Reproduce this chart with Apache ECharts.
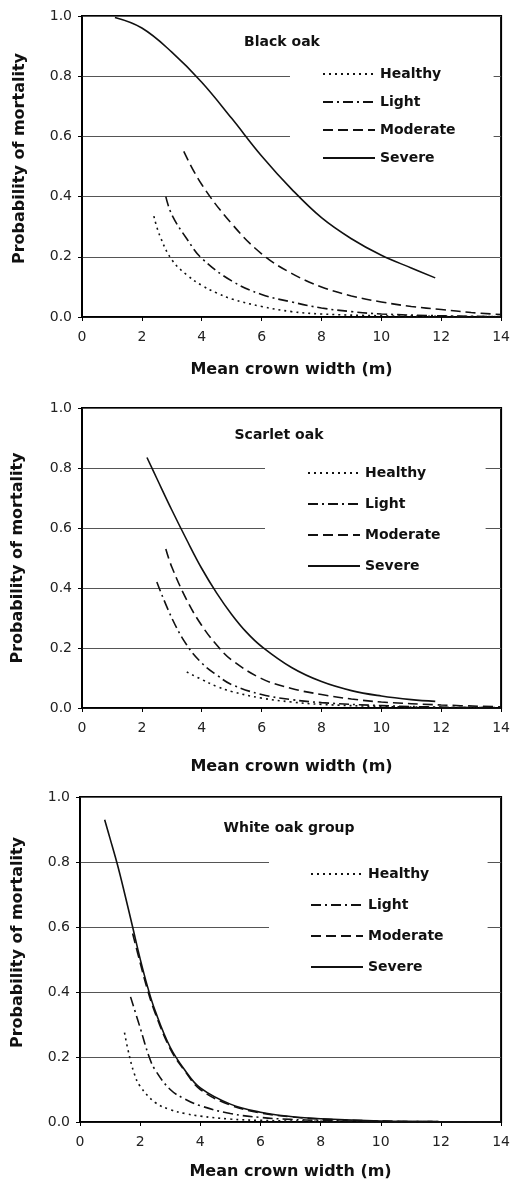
<!DOCTYPE html>
<html>
<head>
<meta charset="utf-8">
<script src="https://cdn.jsdelivr.net/npm/echarts@6/dist/echarts.min.js"></script>
<style>
  html, body { margin: 0; padding: 0; background: #fff; }
  #chart { width: 513px; height: 1182px; }
</style>
</head>
<body>
<div id="chart"></div>
<script>
// 类别与刻度
const levels = ['Healthy', 'Light', 'Moderate', 'Severe'];
const panelTitles = ['Black oak', 'Scarlet oak', 'White oak group'];
const xTicks = [0, 2, 4, 6, 8, 10, 12, 14];
const yTicks = [0, 0.2, 0.4, 0.6, 0.8, 1.0];

// Black oak  [宽度, 概率]
const blackHealthy = [[2.4, 0.335], [2.6, 0.27], [3, 0.19], [3.5, 0.14], [4, 0.105], [4.5, 0.08], [5, 0.06], [6, 0.035], [7, 0.018], [8, 0.01], [10, 0.004], [12, 0.002], [14, 0.001]];
const blackLight = [[2.8, 0.40], [3, 0.34], [3.5, 0.26], [4, 0.195], [5, 0.12], [6, 0.075], [7, 0.05], [8, 0.03], [9, 0.018], [10, 0.01], [12, 0.004], [14, 0.001]];
const blackModerate = [[3.4, 0.55], [4, 0.44], [5, 0.31], [6, 0.21], [7, 0.145], [8, 0.1], [9, 0.07], [10, 0.05], [11, 0.035], [12, 0.025], [13, 0.015], [14, 0.008]];
const blackSevere = [[1.1, 0.995], [2, 0.96], [3, 0.88], [4, 0.78], [5, 0.66], [6, 0.535], [7, 0.425], [8, 0.33], [9, 0.26], [10, 0.205], [11, 0.163], [11.8, 0.13]];

// Scarlet oak
const scarletHealthy = [[3.5, 0.12], [4, 0.095], [4.5, 0.072], [5, 0.055], [6, 0.033], [7, 0.02], [8, 0.012], [10, 0.005], [12, 0.002], [14, 0.001]];
const scarletLight = [[2.5, 0.42], [3, 0.3], [3.5, 0.21], [4, 0.15], [4.5, 0.11], [5, 0.078], [6, 0.045], [7, 0.028], [8, 0.018], [10, 0.008], [12, 0.003], [14, 0.001]];
const scarletModerate = [[2.8, 0.53], [3, 0.47], [3.5, 0.36], [4, 0.275], [4.5, 0.21], [5, 0.16], [6, 0.098], [7, 0.065], [8, 0.045], [9, 0.03], [10, 0.02], [12, 0.01], [14, 0.004]];
const scarletSevere = [[2.17, 0.835], [2.5, 0.765], [3, 0.66], [3.5, 0.56], [4, 0.465], [4.5, 0.383], [5, 0.312], [5.5, 0.252], [6, 0.205], [7, 0.135], [8, 0.088], [9, 0.058], [10, 0.04], [11, 0.028], [11.8, 0.022]];

// White oak group
const whiteHealthy = [[1.48, 0.275], [1.6, 0.22], [1.8, 0.15], [2, 0.11], [2.5, 0.06], [3, 0.038], [3.5, 0.026], [4, 0.018], [5, 0.009], [6, 0.005], [8, 0.002], [10, 0.001], [14, 0.0003]];
const whiteLight = [[1.68, 0.385], [2, 0.29], [2.3, 0.2], [2.5, 0.16], [3, 0.1], [3.5, 0.07], [4, 0.05], [5, 0.026], [6, 0.014], [7, 0.008], [8, 0.005], [10, 0.002], [14, 0.0005]];
const whiteModerate = [[1.75, 0.58], [2, 0.49], [2.25, 0.405], [2.5, 0.335], [3, 0.225], [3.5, 0.155], [4, 0.1], [5, 0.052], [6, 0.028], [7, 0.016], [8, 0.009], [10, 0.003], [12, 0.001], [14, 0.0005]];
const whiteSevere = [[0.82, 0.93], [1, 0.872], [1.25, 0.79], [1.5, 0.697], [1.75, 0.6], [2, 0.502], [2.25, 0.415], [2.5, 0.342], [3, 0.23], [3.5, 0.158], [4, 0.105], [5, 0.055], [6, 0.03], [7, 0.017], [8, 0.01], [10, 0.003], [12, 0.001], [14, 0.0005]];

const panelData = [
    [blackHealthy, blackLight, blackModerate, blackSevere],
    [scarletHealthy, scarletLight, scarletModerate, scarletSevere],
    [whiteHealthy, whiteLight, whiteModerate, whiteSevere]
];

// 线型
const dashTypes = [[2, 4], [10, 4, 2, 4], [10, 5], 'solid'];
const font = 'DejaVu Sans';

// 布局
const grids = [
    { left: 82, right: 10, top: 16, height: 301 },
    { left: 82, right: 8, top: 408, height: 300 },
    { left: 80, right: 8, top: 797, height: 325 }
];
const xNameGaps = [45, 51, 42];
const yNameGaps = [54, 56, 54];
const yNamePads = [[0, 0, 0, 16], [0, 0, 0, 0], [0, 0, 0, 34]];
const titlePos = [[282, 35], [279, 428], [289, 821]];
const legendPos = [
    { left: 290, top: 60, padding: [7, 38, 8, 32], itemGap: 14 },
    { left: 265, top: 456, padding: [10, 45, 6, 42], itemGap: 17 },
    { left: 269, top: 857, padding: [10, 44, 6, 41], itemGap: 17 }
];

const chart = echarts.init(document.getElementById('chart'));

const xAxes = grids.map((g, i) => ({
    type: 'value', gridIndex: i, min: xTicks[0], max: xTicks[xTicks.length - 1], interval: 2,
    name: 'Mean crown width (m)', nameLocation: 'middle', nameGap: xNameGaps[i],
    nameTextStyle: { fontFamily: font, fontWeight: 'bold', fontSize: 16, color: '#111' },
    axisLine: { lineStyle: { color: '#000', width: 1.5 } },
    axisTick: { show: true, inside: false, length: 4, lineStyle: { color: '#000' } },
    axisLabel: { fontFamily: font, fontSize: 14, color: '#222', margin: 13 },
    splitLine: { show: false }
}));

const yAxes = grids.map((g, i) => ({
    type: 'value', gridIndex: i, min: yTicks[0], max: yTicks[yTicks.length - 1], interval: 0.2,
    name: 'Probability of mortality', nameLocation: 'middle', nameGap: yNameGaps[i],
    nameTextStyle: { fontFamily: font, fontWeight: 'bold', fontSize: 16, color: '#111', padding: yNamePads[i] },
    axisLine: { show: true, lineStyle: { color: '#000', width: 1.5 } },
    axisTick: { show: true, inside: false, length: 4, lineStyle: { color: '#000' } },
    axisLabel: { fontFamily: font, fontSize: 14, color: '#222', margin: 10, formatter: v => v.toFixed(1) },
    splitLine: { show: true, lineStyle: { color: '#555', width: 1 } }
}));

const series = [];
panelData.forEach((arr, p) => {
    arr.forEach((d, k) => {
        series.push({
            name: levels[k], type: 'line', xAxisIndex: p, yAxisIndex: p,
            data: d, smooth: 0.4, showSymbol: false, symbol: 'none', silent: true,
            lineStyle: { color: '#111', width: 1.6, type: dashTypes[k] },
            itemStyle: { color: '#111' },
            z: 3
        });
    });
});

chart.setOption({
    animation: false,
    backgroundColor: '#fff',
    grid: grids.map(g => Object.assign({ show: true, borderColor: '#000', borderWidth: 2, backgroundColor: 'transparent' }, g)),
    title: panelTitles.map((t, i) => ({
        text: t, left: titlePos[i][0], top: titlePos[i][1], textAlign: 'center', padding: 0,
        textStyle: { fontFamily: font, fontWeight: 'bold', fontSize: 14, color: '#111' }
    })),
    legend: legendPos.map(l => ({
        orient: 'vertical', left: l.left, top: l.top, padding: l.padding, itemGap: l.itemGap,
        itemWidth: 52, itemHeight: 14, backgroundColor: '#fff', selectedMode: false,
        data: levels, z: 10,
        itemStyle: { opacity: 0 },
        textStyle: { fontFamily: font, fontWeight: 'bold', fontSize: 14, color: '#111' }
    })),
    xAxis: xAxes,
    yAxis: yAxes,
    series: series
});
</script>
</body>
</html>
